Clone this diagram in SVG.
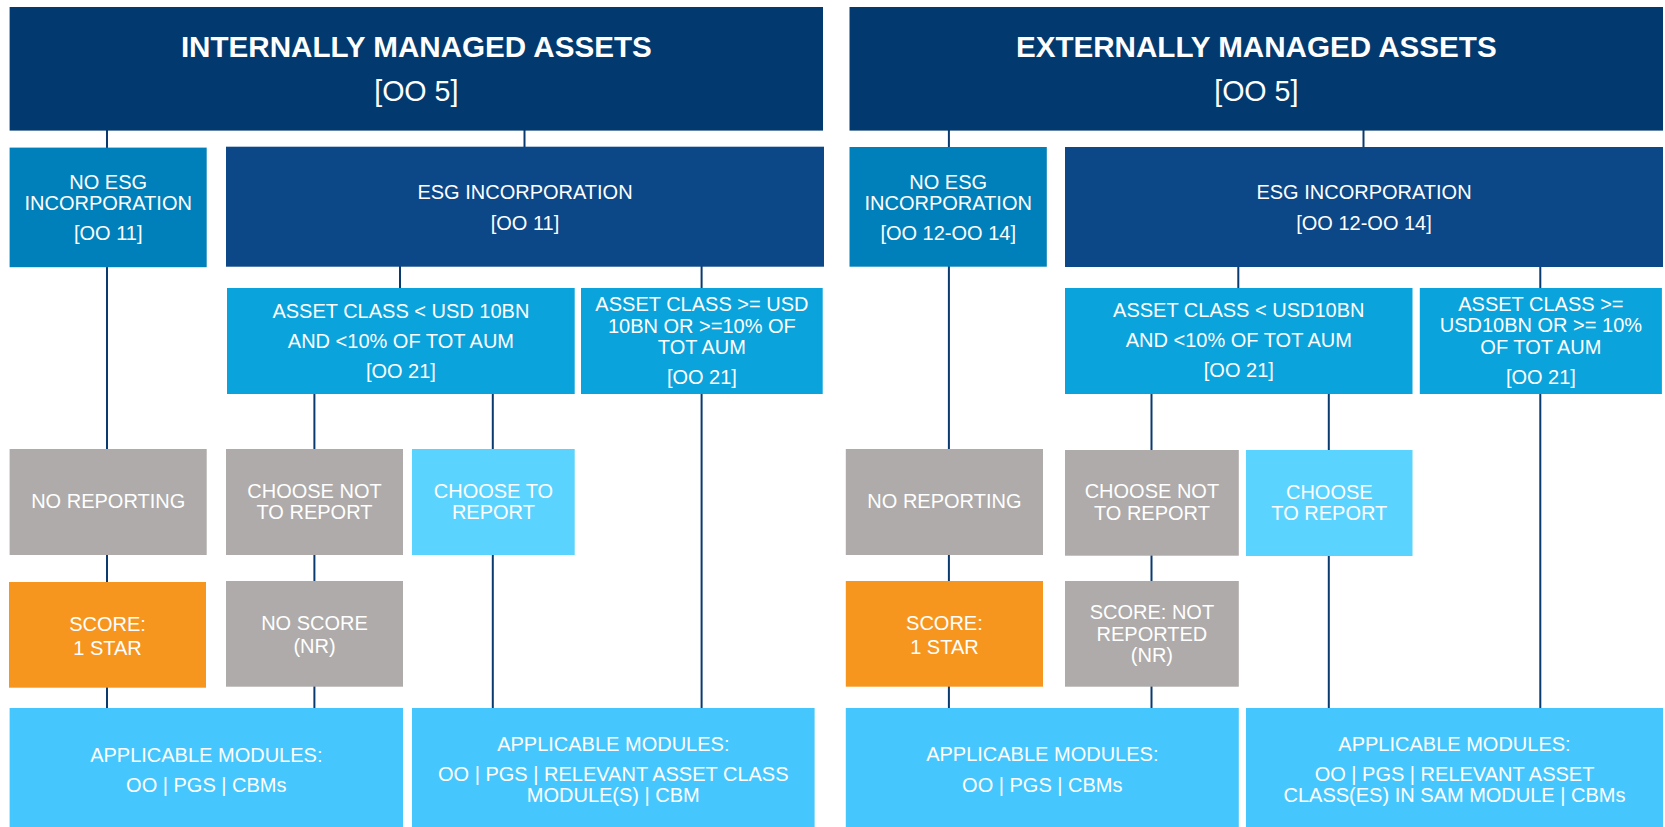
<svg xmlns="http://www.w3.org/2000/svg" width="1665" height="827" viewBox="0 0 1665 827">
<style>
text{font-family:"Liberation Sans",Arial,sans-serif;fill:#fff;text-anchor:middle;font-size:20px}
.title{font-size:29.6px;font-weight:bold}
.ref{font-size:28.6px}
.top{fill:#023a6f}
.esg{fill:#0c4787}
.noesg{fill:#0080ba}
.ac{fill:#0aa3dc}
.gray{fill:#aeabaa}
.ct{fill:#5bd3ff}
.orange{fill:#f7961f}
.mod{fill:#45c7fe}
.conn line{stroke:#0b3a6e;stroke-width:2}
</style>
<rect width="1665" height="827" fill="#fff"/>
<g id="connectors" class="conn">
<line x1="107" y1="130" x2="107" y2="708"/>
<line x1="524.5" y1="130" x2="524.5" y2="147"/>
<line x1="400" y1="266" x2="400" y2="288"/>
<line x1="701.6" y1="266" x2="701.6" y2="708"/>
<line x1="314.4" y1="394" x2="314.4" y2="708"/>
<line x1="492.8" y1="394" x2="492.8" y2="708"/>
<line x1="948.9" y1="130" x2="948.9" y2="708"/>
<line x1="1363.5" y1="130" x2="1363.5" y2="147"/>
<line x1="1238.3" y1="266" x2="1238.3" y2="288"/>
<line x1="1540.3" y1="266" x2="1540.3" y2="708"/>
<line x1="1151.5" y1="394" x2="1151.5" y2="708"/>
<line x1="1328.8" y1="394" x2="1328.8" y2="708"/>
</g>
<g id="int-title"><rect class="top" x="9.6" y="7" width="813.4" height="123.6"/>
<text class="title" x="416.3" y="57">INTERNALLY MANAGED ASSETS</text>
<text class="ref" x="416.3" y="101">[OO 5]</text></g>
<g id="int-noesg"><rect class="noesg" x="9.6" y="147.6" width="197.1" height="119.6"/>
<text x="108.2" y="188.7">NO ESG</text><text x="108.2" y="210">INCORPORATION</text><text x="108.2" y="240.3">[OO 11]</text></g>
<g id="int-esg"><rect class="esg" x="226" y="146.7" width="598" height="120"/>
<text x="525" y="199">ESG INCORPORATION</text><text x="525" y="230">[OO 11]</text></g>
<g id="int-ac-small"><rect class="ac" x="227" y="288" width="347.7" height="106"/>
<text x="400.9" y="318.3">ASSET CLASS &lt; USD 10BN</text><text x="400.9" y="347.7">AND &lt;10% OF TOT AUM</text><text x="400.9" y="378.3">[OO 21]</text></g>
<g id="int-ac-large"><rect class="ac" x="581" y="288" width="241.7" height="106"/>
<text x="701.9" y="310.7">ASSET CLASS &gt;= USD</text><text x="701.9" y="332.5">10BN OR &gt;=10% OF</text><text x="701.9" y="354">TOT AUM</text><text x="701.9" y="384">[OO 21]</text></g>
<g id="int-noreport"><rect class="gray" x="9.6" y="449" width="197.1" height="106"/>
<text x="108.2" y="508">NO REPORTING</text></g>
<g id="int-choosenot"><rect class="gray" x="226" y="449" width="177" height="106"/>
<text x="314.5" y="498.3">CHOOSE NOT</text><text x="314.5" y="519.3">TO REPORT</text></g>
<g id="int-choose"><rect class="ct" x="412" y="449" width="162.7" height="106"/>
<text x="493.4" y="497.7">CHOOSE TO</text><text x="493.4" y="518.7">REPORT</text></g>
<g id="int-score"><rect class="orange" x="9" y="582" width="197" height="105.7"/>
<text x="107.5" y="631">SCORE:</text><text x="107.5" y="655">1 STAR</text></g>
<g id="int-noscore"><rect class="gray" x="226" y="581" width="177" height="105.7"/>
<text x="314.5" y="630">NO SCORE</text><text x="314.5" y="652.5">(NR)</text></g>
<g id="int-mod1"><rect class="mod" x="9.6" y="708" width="393.4" height="119"/>
<text x="206.3" y="761.7">APPLICABLE MODULES:</text><text x="206.3" y="791.7">OO | PGS | CBMs</text></g>
<g id="int-mod2"><rect class="mod" x="412" y="708" width="402.6" height="119"/>
<text x="613.3" y="750.7">APPLICABLE MODULES:</text><text x="613.3" y="780.7">OO | PGS | RELEVANT ASSET CLASS</text><text x="613.3" y="802.3">MODULE(S) | CBM</text></g>
<g id="ext-title"><rect class="top" x="849.5" y="7" width="813.5" height="123.6"/>
<text class="title" x="1256.3" y="57">EXTERNALLY MANAGED ASSETS</text>
<text class="ref" x="1256.3" y="101">[OO 5]</text></g>
<g id="ext-noesg"><rect class="noesg" x="849.5" y="147" width="197.3" height="119.7"/>
<text x="948.2" y="188.7">NO ESG</text><text x="948.2" y="210">INCORPORATION</text><text x="948.2" y="240.3">[OO 12-OO 14]</text></g>
<g id="ext-esg"><rect class="esg" x="1065" y="147" width="598" height="120"/>
<text x="1364" y="199">ESG INCORPORATION</text><text x="1364" y="230">[OO 12-OO 14]</text></g>
<g id="ext-ac-small"><rect class="ac" x="1065" y="288" width="347.5" height="106"/>
<text x="1238.8" y="317.3">ASSET CLASS &lt; USD10BN</text><text x="1238.8" y="346.7">AND &lt;10% OF TOT AUM</text><text x="1238.8" y="377.3">[OO 21]</text></g>
<g id="ext-ac-large"><rect class="ac" x="1419.8" y="288" width="242.1" height="106"/>
<text x="1540.9" y="310.7">ASSET CLASS &gt;=</text><text x="1540.9" y="332.3">USD10BN OR &gt;= 10%</text><text x="1540.9" y="354">OF TOT AUM</text><text x="1540.9" y="384">[OO 21]</text></g>
<g id="ext-noreport"><rect class="gray" x="845.8" y="449" width="197.2" height="106"/>
<text x="944.4" y="508">NO REPORTING</text></g>
<g id="ext-choosenot"><rect class="gray" x="1065" y="450" width="173.8" height="105.7"/>
<text x="1151.9" y="498.3">CHOOSE NOT</text><text x="1151.9" y="520">TO REPORT</text></g>
<g id="ext-choose"><rect class="ct" x="1246" y="450" width="166.5" height="106"/>
<text x="1329.3" y="499.3">CHOOSE</text><text x="1329.3" y="520">TO REPORT</text></g>
<g id="ext-score"><rect class="orange" x="845.8" y="581" width="197.2" height="105.7"/>
<text x="944.4" y="630">SCORE:</text><text x="944.4" y="654">1 STAR</text></g>
<g id="ext-noscore"><rect class="gray" x="1065" y="581" width="173.8" height="105.7"/>
<text x="1151.9" y="619">SCORE: NOT</text><text x="1151.9" y="640.7">REPORTED</text><text x="1151.9" y="662">(NR)</text></g>
<g id="ext-mod1"><rect class="mod" x="845.8" y="708" width="393" height="119"/>
<text x="1042.3" y="760.7">APPLICABLE MODULES:</text><text x="1042.3" y="791.7">OO | PGS | CBMs</text></g>
<g id="ext-mod2"><rect class="mod" x="1246" y="708" width="417" height="119"/>
<text x="1454.5" y="750.7">APPLICABLE MODULES:</text><text x="1454.5" y="780.7">OO | PGS | RELEVANT ASSET</text><text x="1454.5" y="802.3">CLASS(ES) IN SAM MODULE | CBMs</text></g>
</svg>
